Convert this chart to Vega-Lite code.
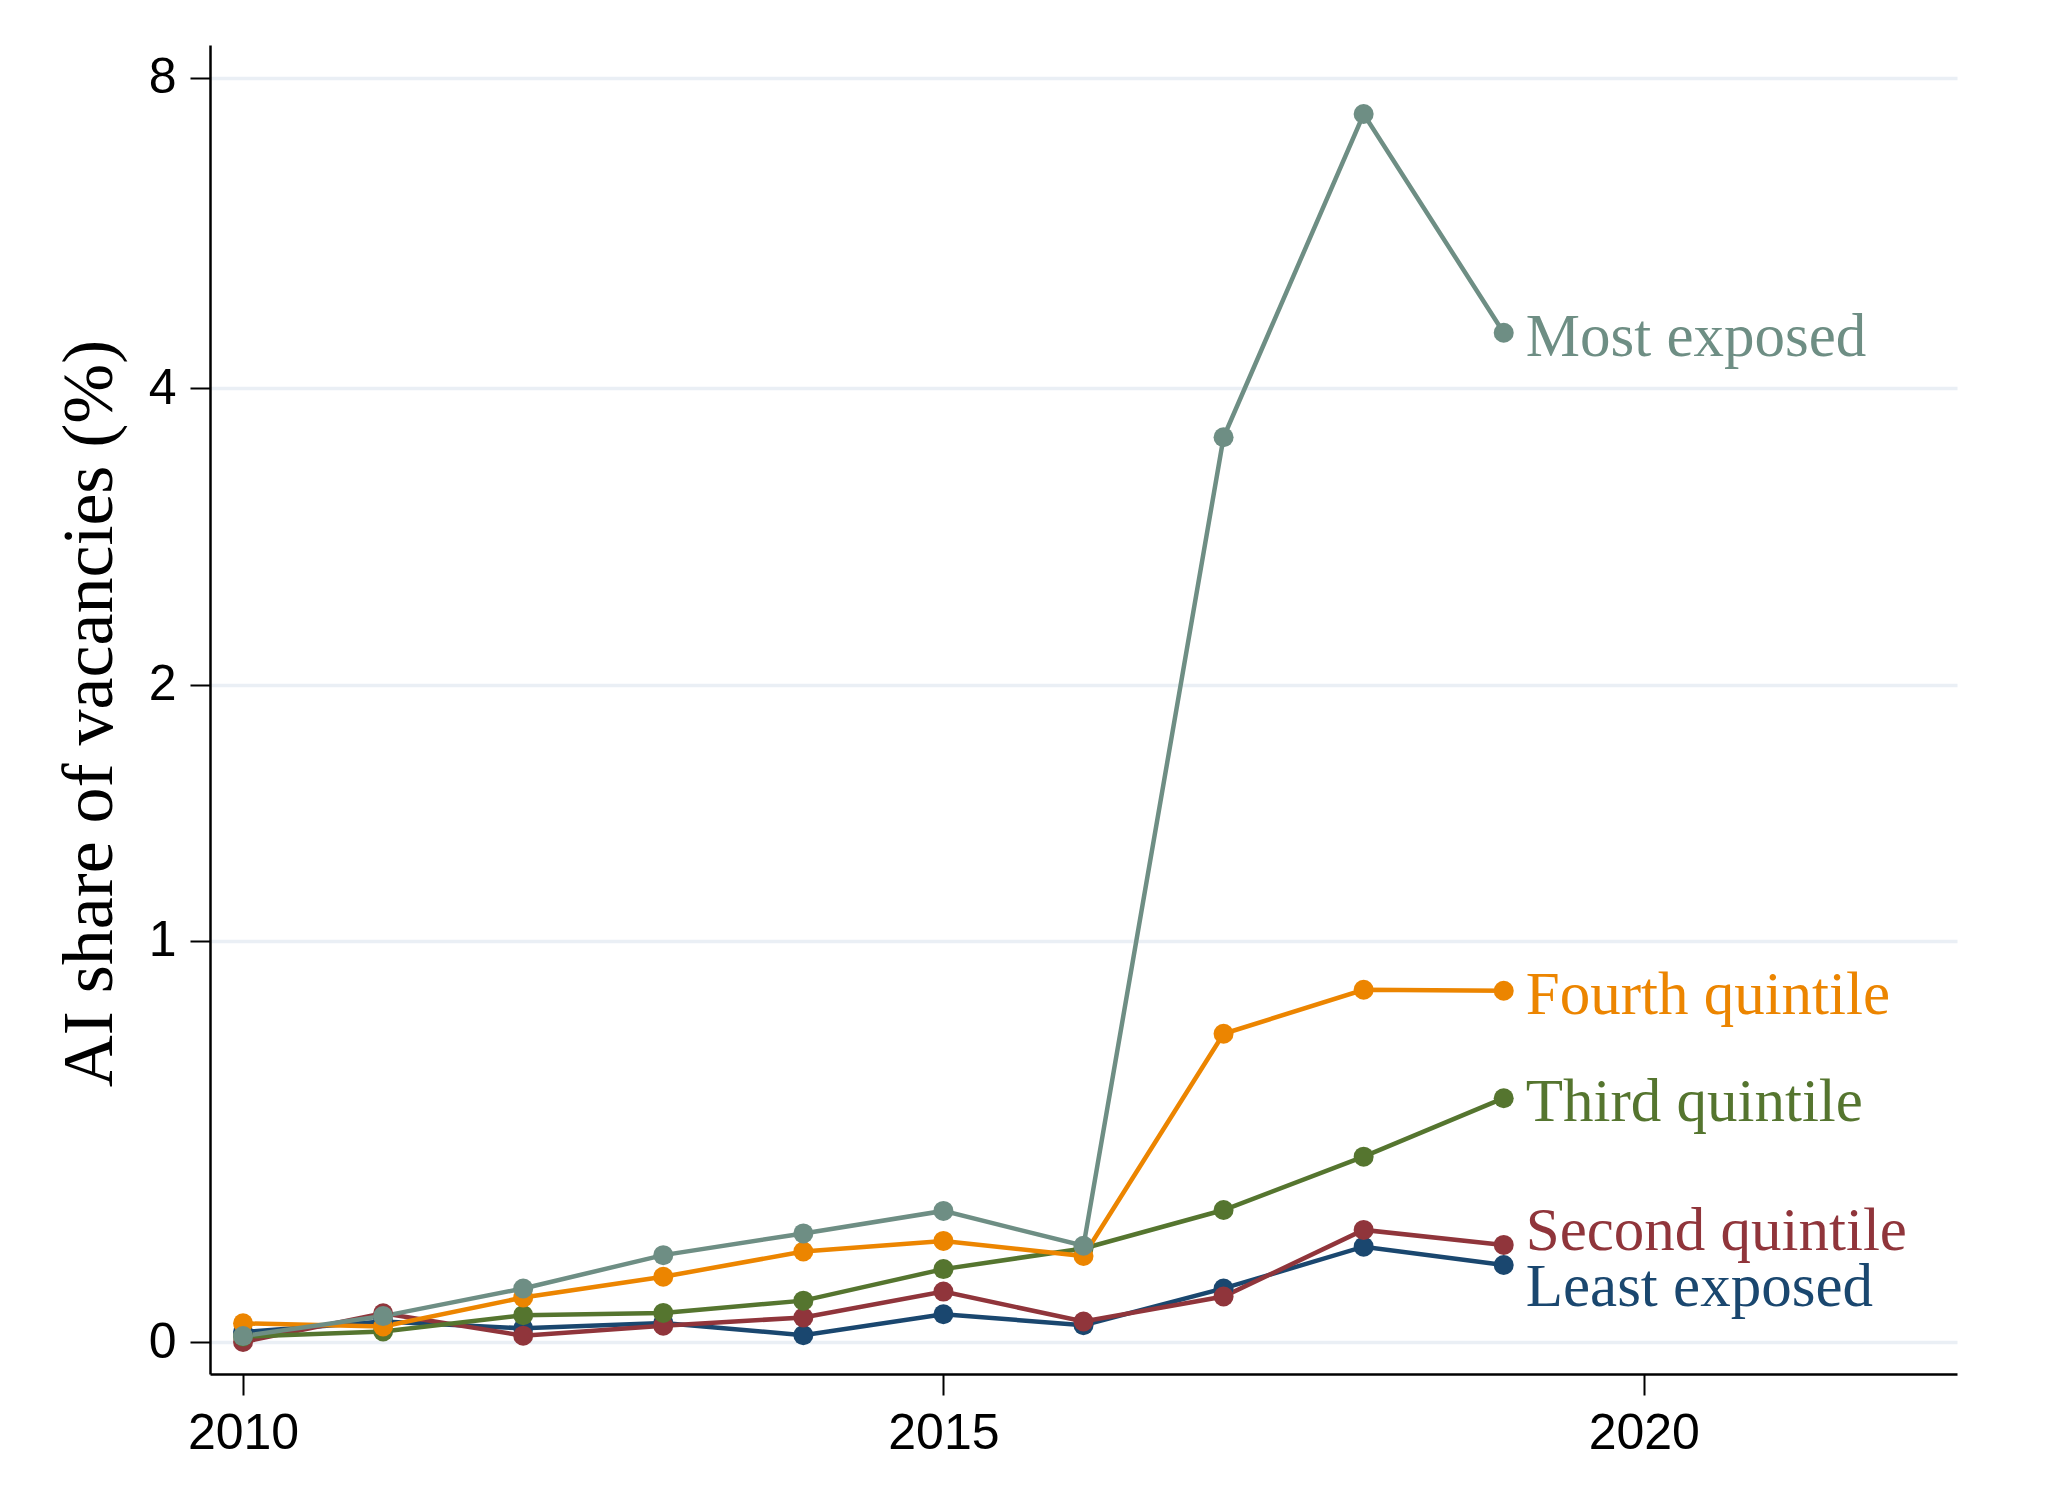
{
  "$schema": "https://vega.github.io/schema/vega-lite/v6.json",
  "width": 1747,
  "height": 1329,
  "autosize": {"type": "none"},
  "padding": {"left": 210, "top": 45, "right": 91, "bottom": 115},
  "background": "white",
  "config": {"view": {"stroke": null}},
  "data": {
    "values": [
      {"year": 2010, "group": "Least exposed", "value": 0.022},
      {"year": 2011, "group": "Least exposed", "value": 0.045},
      {"year": 2012, "group": "Least exposed", "value": 0.030},
      {"year": 2013, "group": "Least exposed", "value": 0.042},
      {"year": 2014, "group": "Least exposed", "value": 0.015},
      {"year": 2015, "group": "Least exposed", "value": 0.061},
      {"year": 2016, "group": "Least exposed", "value": 0.037},
      {"year": 2017, "group": "Least exposed", "value": 0.118},
      {"year": 2018, "group": "Least exposed", "value": 0.211},
      {"year": 2019, "group": "Least exposed", "value": 0.170},
      {"year": 2010, "group": "Second quintile", "value": 0.0},
      {"year": 2011, "group": "Second quintile", "value": 0.063},
      {"year": 2012, "group": "Second quintile", "value": 0.014},
      {"year": 2013, "group": "Second quintile", "value": 0.036},
      {"year": 2014, "group": "Second quintile", "value": 0.054},
      {"year": 2015, "group": "Second quintile", "value": 0.111},
      {"year": 2016, "group": "Second quintile", "value": 0.045},
      {"year": 2017, "group": "Second quintile", "value": 0.100},
      {"year": 2018, "group": "Second quintile", "value": 0.249},
      {"year": 2019, "group": "Second quintile", "value": 0.215},
      {"year": 2010, "group": "Third quintile", "value": 0.012},
      {"year": 2011, "group": "Third quintile", "value": 0.023},
      {"year": 2012, "group": "Third quintile", "value": 0.059},
      {"year": 2013, "group": "Third quintile", "value": 0.064},
      {"year": 2014, "group": "Third quintile", "value": 0.091},
      {"year": 2015, "group": "Third quintile", "value": 0.161},
      {"year": 2016, "group": "Third quintile", "value": 0.207},
      {"year": 2017, "group": "Third quintile", "value": 0.294},
      {"year": 2018, "group": "Third quintile", "value": 0.420},
      {"year": 2019, "group": "Third quintile", "value": 0.564},
      {"year": 2010, "group": "Fourth quintile", "value": 0.041},
      {"year": 2011, "group": "Fourth quintile", "value": 0.034},
      {"year": 2012, "group": "Fourth quintile", "value": 0.098},
      {"year": 2013, "group": "Fourth quintile", "value": 0.144},
      {"year": 2014, "group": "Fourth quintile", "value": 0.200},
      {"year": 2015, "group": "Fourth quintile", "value": 0.224},
      {"year": 2016, "group": "Fourth quintile", "value": 0.190},
      {"year": 2017, "group": "Fourth quintile", "value": 0.731},
      {"year": 2018, "group": "Fourth quintile", "value": 0.857},
      {"year": 2019, "group": "Fourth quintile", "value": 0.854},
      {"year": 2010, "group": "Most exposed", "value": 0.013},
      {"year": 2011, "group": "Most exposed", "value": 0.057},
      {"year": 2012, "group": "Most exposed", "value": 0.118},
      {"year": 2013, "group": "Most exposed", "value": 0.192},
      {"year": 2014, "group": "Most exposed", "value": 0.241},
      {"year": 2015, "group": "Most exposed", "value": 0.292},
      {"year": 2016, "group": "Most exposed", "value": 0.213},
      {"year": 2017, "group": "Most exposed", "value": 3.583},
      {"year": 2018, "group": "Most exposed", "value": 7.40},
      {"year": 2019, "group": "Most exposed", "value": 4.535}
    ]
  },
  "encoding": {
    "x": {
      "field": "year",
      "type": "quantitative",
      "scale": {"domain": [2009.764, 2022.236], "nice": false, "zero": false},
      "axis": {
        "values": [2010, 2015, 2020],
        "format": "d",
        "grid": false,
        "title": null,
        "tickSize": 21,
        "tickWidth": 2,
        "tickColor": "black",
        "domainColor": "black",
        "domainWidth": 2.5,
        "labelFont": "Liberation Sans",
        "labelFontSize": 50,
        "labelColor": "black",
        "labelPadding": 13,
        "labelFlush": false,
        "labelOverlap": false
      }
    },
    "y": {
      "field": "value",
      "type": "quantitative",
      "scale": {
        "domain": [-0.0704, 0, 0.1, 0.2, 0.3, 0.5, 0.75, 1, 1.5, 2, 2.5, 3, 3.5, 4, 4.5, 5, 6, 7, 8, 8.604],
        "range": [1329, 1297, 1251.55, 1206.54, 1162.38, 1077.9, 981.41, 895.71, 753.02, 639.71, 547.02, 469.06, 402.0, 343.28, 291.08, 244.15, 162.49, 93.13, 32.87, 0],
        "nice": false,
        "zero": false
      },
      "axis": {
        "values": [0, 1, 2, 4, 8],
        "title": "AI share of vacancies (%)",
        "grid": true,
        "gridColor": "#EAEFF5",
        "gridWidth": 3.5,
        "tickSize": 20,
        "tickWidth": 2,
        "tickColor": "black",
        "domainColor": "black",
        "domainWidth": 2.5,
        "labelFont": "Liberation Sans",
        "labelFontSize": 50,
        "labelColor": "black",
        "labelPadding": 14,
        "labelFlush": false,
        "labelOverlap": false,
        "titleFont": "Liberation Serif",
        "titleFontSize": 72,
        "titleFontWeight": "normal",
        "titleColor": "black",
        "titleAngle": -90,
        "titleAlign": "center",
        "titleBaseline": "alphabetic",
        "titleX": -99,
        "titleY": 668
      }
    },
    "color": {
      "field": "group",
      "type": "nominal",
      "scale": {
        "domain": ["Least exposed", "Second quintile", "Third quintile", "Fourth quintile", "Most exposed"],
        "range": ["#1A476F", "#90353B", "#55752F", "#EC8500", "#6E8E84"]
      },
      "legend": null
    }
  },
  "layer": [
    {"mark": {"type": "line", "strokeWidth": 4.5}, "encoding": {}},
    {"mark": {"type": "point", "filled": true, "size": 400, "opacity": 1}},
    {
      "transform": [{"filter": "datum.year == 2019 && (datum.group == 'Most exposed' || datum.group == 'Fourth quintile' || datum.group == 'Third quintile')"}],
      "mark": {"type": "text", "align": "left", "baseline": "alphabetic", "dx": 22, "dy": 23, "font": "Liberation Serif", "fontSize": 61},
      "encoding": {"text": {"field": "group"}}
    },
    {
      "transform": [{"filter": "datum.year == 2019 && datum.group == 'Second quintile'"}],
      "mark": {"type": "text", "align": "left", "baseline": "alphabetic", "dx": 22, "dy": 5, "font": "Liberation Serif", "fontSize": 61},
      "encoding": {"text": {"field": "group"}}
    },
    {
      "transform": [{"filter": "datum.year == 2019 && datum.group == 'Least exposed'"}],
      "mark": {"type": "text", "align": "left", "baseline": "alphabetic", "dx": 22, "dy": 41, "font": "Liberation Serif", "fontSize": 61},
      "encoding": {"text": {"field": "group"}}
    }
  ]
}
